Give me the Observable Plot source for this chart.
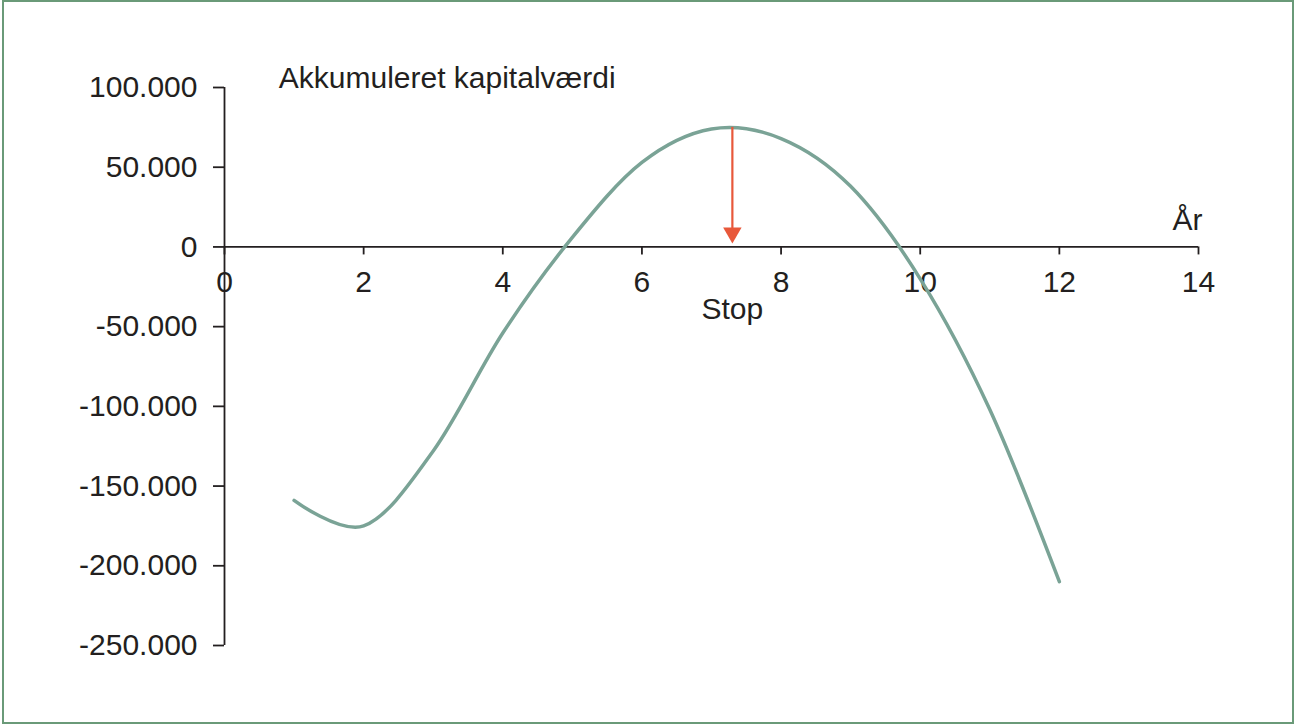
<!DOCTYPE html>
<html><head><meta charset="utf-8">
<script src="https://cdn.jsdelivr.net/npm/d3@7"></script>
<script src="https://cdn.jsdelivr.net/npm/@observablehq/plot@0.6"></script>
<style>
html,body{margin:0;padding:0;background:#fff;overflow:hidden}
#wrap{position:relative;width:1294px;height:725px}
#frame{position:absolute;left:2px;top:0;width:1292px;height:724px;box-sizing:border-box;border:2px solid #6a9a78;pointer-events:none}
</style></head><body><div id="wrap"><div id="frame"></div></div>
<script>
// Data
const years = [1, 2, 3, 4, 5, 6, 7, 8, 9, 10, 11, 12];
const values = [-159000, -175000, -128000, -54000, 6000, 53000, 74000, 68000, 38000, -20000, -102000, -210000];
const xTicks = [0, 2, 4, 6, 8, 10, 12, 14];
const yTicks = [100000, 50000, 0, -50000, -100000, -150000, -200000, -250000];
const seriesLabel = ["Akkumuleret kapitalværdi"];
const seriesLabelYear = [0.78];
const xAxisLabel = ["År"];
const stopLabel = ["Stop"];
const stopYear = [7.3];
const stopValue = [75000];

const data = years.map((x, i) => ({year: x, value: values[i]}));
const fmt = d3.formatLocale({decimal: ",", thousands: ".", grouping: [3], currency: ["", ""], minus: "-"}).format(",");
const font = "'Liberation Sans', Arial, sans-serif";
const ink = "#231f20";
const curveColor = "#7aa396";
const arrowColor = "#e8583a";
const stop = stopYear.map((x, i) => ({year: x, value: stopValue[i], label: stopLabel[i]}));

const plot = Plot.plot({
  width: 1294, height: 725,
  marginLeft: 224, marginRight: 96, marginTop: 87, marginBottom: 80,
  style: {fontFamily: font, fontSize: "30px", color: ink, background: "transparent"},
  x: {domain: [0, 14], axis: null, label: null},
  y: {domain: [-250000, 100000], label: null},
  marks: [
    Plot.axisY(yTicks, {anchor: "left", tickSize: 11, tickPadding: 16, tickFormat: fmt, fontSize: 30, strokeWidth: 1.8, label: null}),
    Plot.ruleX([0], {stroke: ink, strokeWidth: 1.8}),
    Plot.ruleY([0], {x1: 0, x2: 14, stroke: ink, strokeWidth: 1.8}),
    Plot.ruleX(xTicks, {x: d => d, y1: 0, y2: 0, insetBottom: -8, stroke: ink, strokeWidth: 1.8}),
    Plot.text(xTicks, {x: d => d, y: 0, text: d => String(d), dy: 45, lineAnchor: "bottom", fontSize: 30, fill: ink}),
    Plot.line(data, {x: "year", y: "value", curve: "catmull-rom", tension: 0, stroke: curveColor, strokeWidth: 3.5}),
    Plot.ruleX(stop, {x: "year", y1: "value", y2: 0, insetBottom: 12, stroke: arrowColor, strokeWidth: 2.2}),
    Plot.dot(stop, {x: "year", y: 0, symbol: "triangle2", r: 8.8, rotate: 180, dy: -14, fill: arrowColor, stroke: "none"}),
    Plot.text(stop, {x: "year", y: 0, text: d => d.label, dy: 72, lineAnchor: "bottom", fontSize: 30, fill: ink}),
    Plot.text(xAxisLabel, {x: 14, y: 0, text: d => d, dy: -17, dx: 4, textAnchor: "end", lineAnchor: "bottom", fontSize: 30, fill: ink}),
    Plot.text(seriesLabel, {x: seriesLabelYear[0], y: yTicks[0], text: d => d, textAnchor: "start", lineAnchor: "bottom", fontSize: 30, fill: ink})
  ]
});
document.getElementById("wrap").prepend(plot);
</script></body></html>
